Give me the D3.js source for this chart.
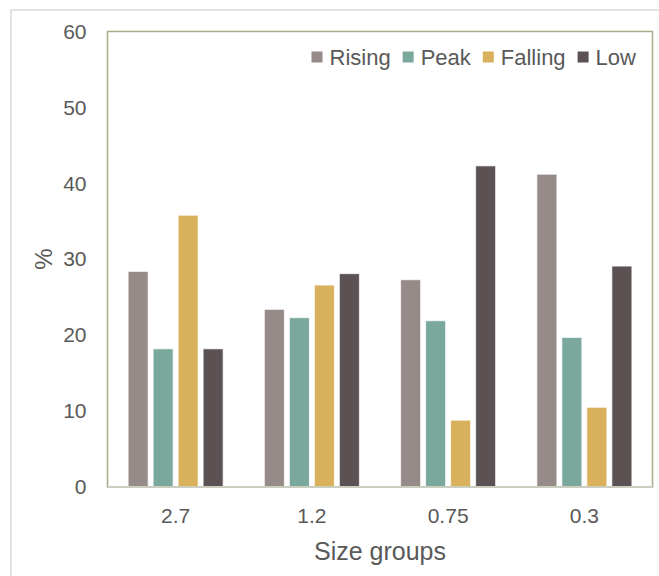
<!DOCTYPE html>
<html>
<head>
<meta charset="utf-8">
<script src="https://cdn.jsdelivr.net/npm/d3@7/dist/d3.min.js"></script>
<style>
  html, body { margin: 0; padding: 0; background: #fff; }
  svg { display: block; font-family: "Liberation Sans", Arial, sans-serif; }
</style>
</head>
<body>
<svg id="chart" width="659" height="576"></svg>
<script>
// Size groups along the x axis
const groups = ["2.7", "1.2", "0.75", "0.3"];
// Series and their colours
const seriesNames = ["Rising", "Peak", "Falling", "Low"];
const seriesColors = ["#978b89", "#7ba89c", "#d9b15c", "#5c5253"];
// Percent per size group, one array per series
const rising  = [28.4, 23.4, 27.3, 41.2];
const peak    = [18.2, 22.3, 21.9, 19.7];
const falling = [35.8, 26.6, 8.8, 10.5];
const low     = [18.2, 28.1, 42.3, 29.1];
// Y axis ticks
const yTicks = [0, 10, 20, 30, 40, 50, 60];

const seriesValues = [rising, peak, falling, low];
const textColor = "#595959";

const svg = d3.select("#chart");
const plot = { left: 107.5, right: 652.5, top: 31.5, bottom: 487 };

// outer frame
svg.append("rect")
  .attr("x", 11).attr("y", 10).attr("width", 700).attr("height", 600)
  .attr("fill", "none").attr("stroke", "#d9d9d9").attr("stroke-width", 1.5);

const y = d3.scaleLinear().domain([0, 60]).range([plot.bottom, plot.top]);
const x0 = d3.scaleBand().domain(groups).range([plot.left, plot.right]).padding(0);
const x1 = d3.scaleBand().domain(seriesNames).range([0, x0.bandwidth()])
  .paddingInner(0.2).paddingOuter(0.825);

// plot border
svg.append("rect")
  .attr("x", plot.left).attr("y", plot.top)
  .attr("width", plot.right - plot.left).attr("height", plot.bottom - plot.top)
  .attr("fill", "none").attr("stroke", "#a6ae88").attr("stroke-width", 1.5);

// bars
const barData = [];
groups.forEach((g, gi) => {
  seriesNames.forEach((s, si) => {
    barData.push({ group: g, series: s, value: seriesValues[si][gi], color: seriesColors[si] });
  });
});
svg.append("g").selectAll("rect").data(barData).join("rect")
  .attr("x", d => x0(d.group) + x1(d.series))
  .attr("y", d => y(d.value))
  .attr("width", x1.bandwidth())
  .attr("height", d => y(0) - y(d.value))
  .attr("fill", d => d.color)
  .attr("stroke", "#ffffff").attr("stroke-opacity", 0.7).attr("stroke-width", 1);

// baseline
svg.append("line")
  .attr("x1", plot.left).attr("x2", plot.right + 0.75)
  .attr("y1", y(0)).attr("y2", y(0))
  .attr("stroke", "#cbcebf").attr("stroke-width", 2);

// y axis labels
const yAxis = d3.axisLeft(y).tickValues(yTicks).tickSize(0).tickPadding(21);
const gy = svg.append("g").attr("transform", `translate(${plot.left},0)`).call(yAxis);
gy.select(".domain").remove();
gy.selectAll("text").attr("fill", textColor).attr("font-size", 21)
  .attr("font-family", "Liberation Sans, Arial, sans-serif");

// x axis labels
const xAxis = d3.axisBottom(x0).tickSize(0).tickPadding(21);
const gx = svg.append("g").attr("transform", `translate(0,${plot.bottom})`).call(xAxis);
gx.select(".domain").remove();
gx.selectAll("text").attr("fill", textColor).attr("font-size", 21)
  .attr("font-family", "Liberation Sans, Arial, sans-serif");

// axis titles
svg.append("text")
  .attr("x", (plot.left + plot.right) / 2).attr("y", 560)
  .attr("text-anchor", "middle").attr("fill", textColor).attr("font-size", 25)
  .text("Size groups");
svg.append("text")
  .attr("transform", "translate(52,259) rotate(-90)")
  .attr("text-anchor", "middle").attr("fill", textColor).attr("font-size", 24)
  .text("%");

// legend
const legend = svg.append("g");
let lx = 311.5;
seriesNames.forEach((s, i) => {
  legend.append("rect")
    .attr("x", lx).attr("y", 51.5).attr("width", 11).attr("height", 11)
    .attr("fill", seriesColors[i]);
  const t = legend.append("text")
    .attr("x", lx + 18).attr("y", 65)
    .attr("fill", textColor).attr("font-size", 22)
    .text(s);
  lx += 18 + t.node().getComputedTextLength() + 12;
});
</script>
</body>
</html>
